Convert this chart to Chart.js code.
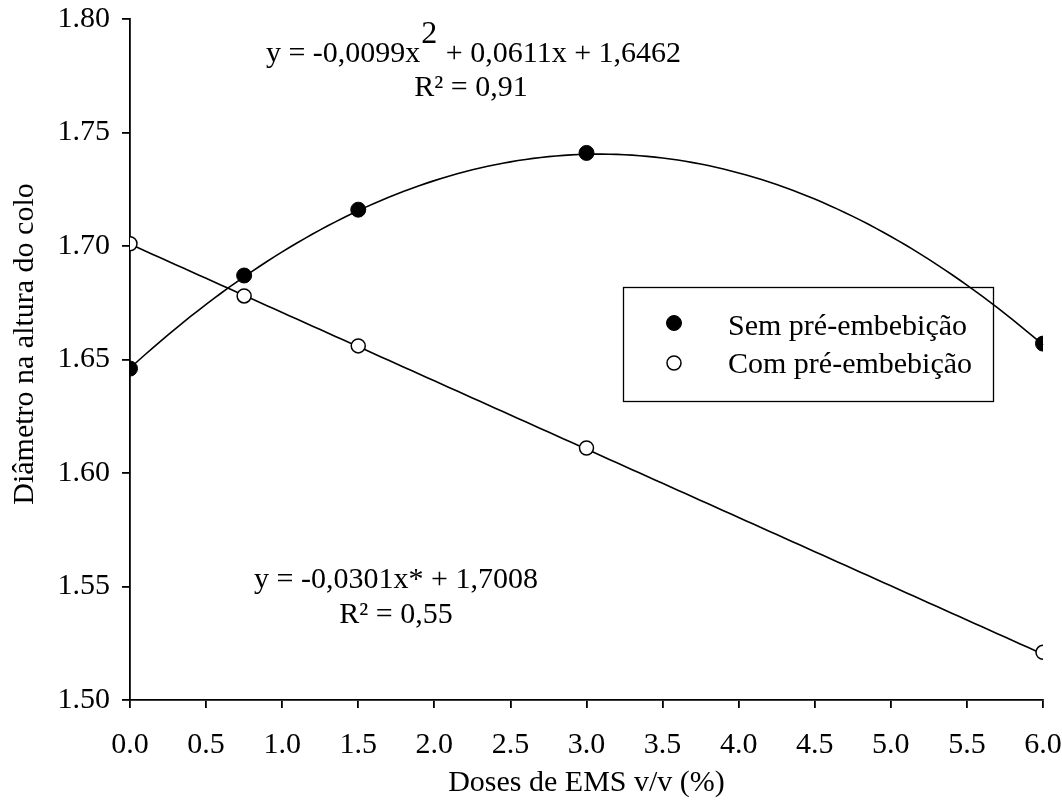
<!DOCTYPE html>
<html>
<head>
<meta charset="utf-8">
<script src="https://cdn.jsdelivr.net/npm/chart.js@4"></script>
<style>
  html, body { margin: 0; padding: 0; background: #fff; }
  canvas { display: block; }
</style>
</head>
<body>
<canvas id="grafico" width="1062" height="803"></canvas>
<script>
// doses de EMS (%)
const doses = [0, 0.75, 1.5, 3, 6];
const semPre = [1.646, 1.687, 1.716, 1.741, 1.657];
const comPre = [1.701, 1.678, 1.656, 1.611, 1.521];

// coeficientes das regressões (c0, c1, c2)
const coefSem = [1.6462, 0.0611, -0.0099];
const coefCom = [1.7008, -0.0301, 0];

const nomes = ["Sem pré-embebição", "Com pré-embebição"];
const eqSem = ["y = -0,0099x", "2", " + 0,0611x + 1,6462", "R² = 0,91"];
const eqCom = ["y = -0,0301x* + 1,7008", "R² = 0,55"];
const tituloY = "Diâmetro na altura do colo";

const fonte = "Liberation Serif, Times New Roman, serif";
const tam = 30;

function pontos(ys) {
    return doses.map((x, i) => ({ x: x, y: ys[i] }));
}

// curvas de regressão desenhadas pelas escalas do gráfico
const curvas = {
    id: "curvas",
    beforeDatasetsDraw(chart) {
        const ctx = chart.ctx;
        const sx = chart.scales.x, sy = chart.scales.y;
        ctx.save();
        ctx.strokeStyle = "#000";
        ctx.lineWidth = 1.6;
        [coefSem, coefCom].forEach(c => {
            ctx.beginPath();
            for (let k = 0; k <= 120; k++) {
                const x = 6 * k / 120;
                const y = c[0] + c[1] * x + c[2] * x * x;
                const px = sx.getPixelForValue(x), py = sy.getPixelForValue(y);
                if (k === 0) ctx.moveTo(px, py); else ctx.lineTo(px, py);
            }
            ctx.stroke();
        });
        ctx.restore();
    },
    afterDraw(chart) {
        const ctx = chart.ctx;
        ctx.save();
        ctx.fillStyle = "#000";
        ctx.textBaseline = "alphabetic";
        ctx.font = tam + "px " + fonte;

        // equação quadrática (expoente elevado)
        const w1 = ctx.measureText(eqSem[0]).width;
        const w2 = ctx.measureText(eqSem[1]).width;
        const w3 = ctx.measureText(eqSem[2]).width;
        const x0 = 472 - (w1 + w2 + w3) / 2;
        ctx.textAlign = "left";
        ctx.fillText(eqSem[0], x0, 62);
        ctx.font = (tam + 2) + "px " + fonte;
        ctx.fillText(eqSem[1], x0 + w1 + 1, 43);
        ctx.font = tam + "px " + fonte;
        ctx.fillText(eqSem[2], x0 + w1 + w2 + 3, 62);
        ctx.textAlign = "center";
        ctx.fillText(eqSem[3], 471, 96);

        // equação linear
        ctx.fillText(eqCom[0], 396, 588);
        ctx.fillText(eqCom[1], 396, 623);

        // título do eixo y
        ctx.save();
        ctx.translate(33, 344);
        ctx.rotate(-Math.PI / 2);
        ctx.fillText(tituloY, 0, 0);
        ctx.restore();

        // legenda
        ctx.lineWidth = 1.3;
        ctx.strokeStyle = "#000";
        ctx.strokeRect(623.5, 287.5, 370, 114);
        ctx.textAlign = "left";
        chart.data.datasets.forEach((ds, i) => {
            const y = 323 + i * 40;
            ctx.beginPath();
            ctx.arc(674, y, ds.pointRadius, 0, Math.PI * 2);
            ctx.fillStyle = ds.pointBackgroundColor;
            ctx.fill();
            ctx.lineWidth = ds.pointBorderWidth;
            ctx.stroke();
            ctx.fillStyle = "#000";
            ctx.fillText(ds.label, 728, 335 + i * 38);
        });
        ctx.restore();
    }
};

const ctx = document.getElementById("grafico").getContext("2d");
new Chart(ctx, {
    type: "scatter",
    data: {
        datasets: [{
            label: nomes[0],
            data: pontos(semPre),
            pointRadius: 7.5,
            pointBackgroundColor: "#000",
            pointBorderColor: "#000",
            pointBorderWidth: 1,
            showLine: false
        }, {
            label: nomes[1],
            data: pontos(comPre),
            pointRadius: 7,
            pointBackgroundColor: "#fff",
            pointBorderColor: "#000",
            pointBorderWidth: 1.5,
            showLine: false
        }]
    },
    options: {
        responsive: false,
        animation: false,
        devicePixelRatio: 1,
        layout: { padding: 0 },
        plugins: { legend: { display: false }, tooltip: { enabled: false } },
        scales: {
            x: {
                type: "linear", min: 0, max: 6,
                border: { color: "#000", width: 1.8 },
                grid: { drawOnChartArea: false, drawTicks: true, tickLength: 8, color: "#000", lineWidth: 1.8 },
                ticks: { stepSize: 0.5, autoSkip: false, color: "#000", font: { family: fonte, size: tam }, padding: 19,
                         maxRotation: 0, callback: v => v.toFixed(1) },
                title: { display: true, text: "Doses de EMS v/v (%)", color: "#000",
                         font: { family: fonte, size: tam }, padding: { top: 4, bottom: 2 } },
                afterFit(s) { s.height = 103; s.paddingLeft = 0; s.paddingRight = 19; }
            },
            y: {
                min: 1.5, max: 1.8,
                border: { color: "#000", width: 1.8 },
                grid: { drawOnChartArea: false, drawTicks: true, tickLength: 8, color: "#000", lineWidth: 1.8 },
                ticks: { stepSize: 0.05, color: "#000", font: { family: fonte, size: tam }, padding: 12,
                         callback: v => v.toFixed(2) },
                afterFit(s) { s.width = 130; s.paddingTop = 19; s.paddingBottom = 0; }
            }
        }
    },
    plugins: [curvas]
});
</script>
</body>
</html>
